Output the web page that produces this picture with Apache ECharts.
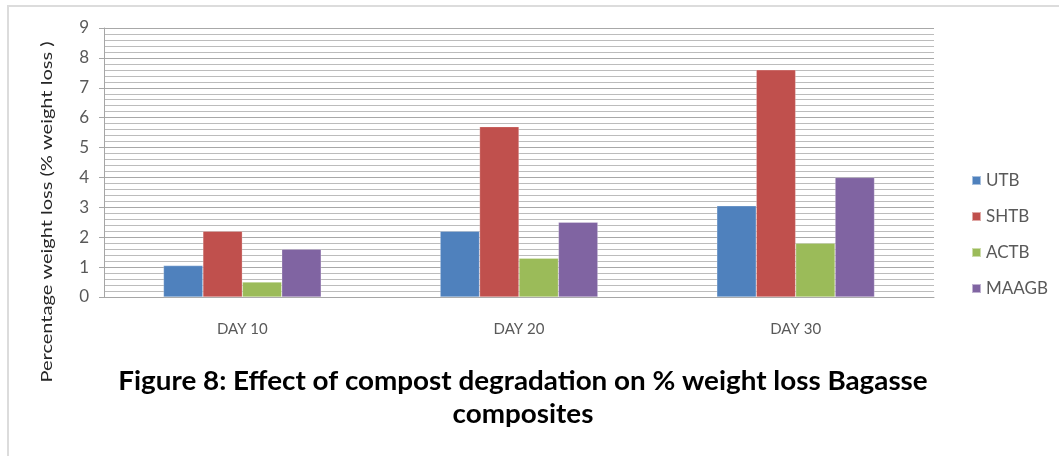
<!DOCTYPE html>
<html>
<head>
<meta charset="utf-8">
<script src="https://cdn.jsdelivr.net/npm/echarts@6/dist/echarts.min.js"></script>
<style>
  html, body { margin: 0; padding: 0; background: #fff; }
  #chart { width: 1059px; height: 456px; }
</style>
</head>
<body>
<div id="chart"></div>
<script>
// Sampling days
const categories = ['DAY 10', 'DAY 20', 'DAY 30'];
// Percentage weight loss for each composite
const utb = [1.05, 2.2, 3.05];
const shtb = [2.2, 5.7, 7.6];
const actb = [0.5, 1.3, 1.8];
const maagb = [1.6, 2.5, 4.0];
const seriesNames = ['UTB', 'SHTB', 'ACTB', 'MAAGB'];
const colors = ['#4F81BD', '#C0504D', '#9BBB59', '#8064A2'];
const yTicks = [0, 1, 2, 3, 4, 5, 6, 7, 8, 9];

const values = [utb, shtb, actb, maagb];
const chart = echarts.init(document.getElementById('chart'), null, { renderer: 'canvas' });

chart.setOption({
  animation: false,
  textStyle: { fontFamily: 'Lato' },
  grid: { left: 104, right: 125, top: 28, bottom: 159, containLabel: false },
  legend: {
    orient: 'vertical',
    left: 966,
    top: 167,
    itemWidth: 9,
    itemHeight: 9,
    itemGap: 19,
    icon: 'rect',
    textStyle: { color: '#595959', fontSize: 17, fontFamily: 'Lato' },
    data: seriesNames
  },
  xAxis: {
    type: 'category',
    data: categories,
    axisLine: { lineStyle: { color: '#a6a6a6', width: 1 } },
    axisTick: { show: false },
    axisLabel: { color: '#595959', fontSize: 15, margin: 25, fontFamily: 'Lato' }
  },
  yAxis: {
    type: 'value',
    min: yTicks[0],
    max: yTicks[yTicks.length - 1],
    interval: 1,
    axisLine: { show: true, lineStyle: { color: '#a6a6a6', width: 1 } },
    axisTick: { show: true, length: 5, lineStyle: { color: '#a6a6a6' } },
    axisLabel: { color: '#595959', fontSize: 17, margin: 15, fontFamily: 'Lato' },
    splitLine: { show: true, lineStyle: { color: '#a8a8a8', width: 1 } },
    minorTick: { show: false, splitNumber: 5 },
    minorSplitLine: { show: true, lineStyle: { color: '#bcbcbc', width: 1 } }
  },
  series: seriesNames.map((name, i) => ({
    name: name,
    type: 'bar',
    data: values[i],
    barGap: '0%',
    barCategoryGap: '43%',
    itemStyle: { color: colors[i], borderColor: 'rgba(255,255,255,0.5)', borderWidth: 0.5 }
  })),
  graphic: [
    {
      type: 'polyline',
      shape: { points: [[8, 456], [8, 6], [1059, 6]] },
      style: { stroke: '#dcdcdc', lineWidth: 2, fill: null },
      silent: true
    },
    {
      type: 'text',
      x: 47,
      y: 212,
      rotation: Math.PI / 2,
      scaleX: 1.25,
      style: {
        text: 'Percentage weight loss (% weight loss )',
        fill: '#262626',
        font: '16px Lato',
        align: 'center',
        verticalAlign: 'middle'
      }
    },
    {
      type: 'text',
      x: 523,
      y: 381,
      scaleX: 1.03,
      style: {
        text: 'Figure 8: Effect of compost degradation on % weight loss Bagasse',
        fill: '#000',
        font: 'bold 27px Lato',
        align: 'center',
        verticalAlign: 'middle'
      }
    },
    {
      type: 'text',
      x: 523,
      y: 414,
      scaleX: 1.03,
      style: {
        text: 'composites',
        fill: '#000',
        font: 'bold 27px Lato',
        align: 'center',
        verticalAlign: 'middle'
      }
    }
  ]
});
</script>
</body>
</html>
